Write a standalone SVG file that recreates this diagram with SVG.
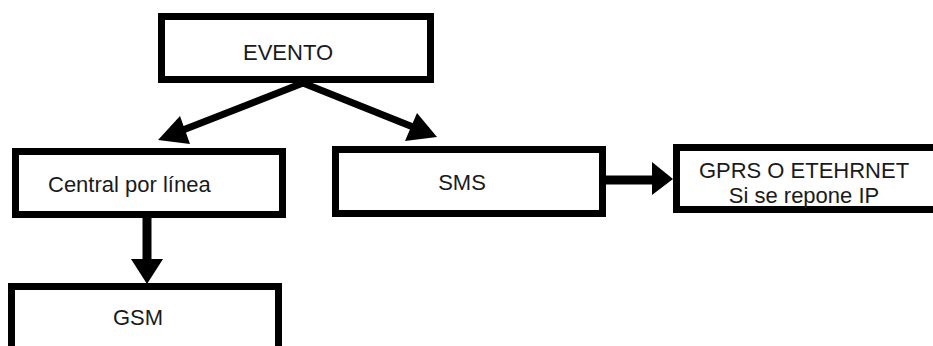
<svg xmlns="http://www.w3.org/2000/svg" width="933" height="346" viewBox="0 0 933 346">
<style>
.box{fill:#fff;stroke:#000;stroke-width:7}
.lbl{font-family:"Liberation Sans",Arial,sans-serif;font-size:22px;fill:#1a1a1a}
.ln{stroke:#000;fill:none}
.hd{fill:#000;stroke:none}
</style>
<rect width="933" height="346" fill="#fff"/>
<g id="connectors">
<line class="ln" x1="303" y1="83" x2="183" y2="130" stroke-width="7"/>
<polygon class="hd" points="158,140 180,116 190,144"/>
<line class="ln" x1="303" y1="83" x2="413" y2="127" stroke-width="7"/>
<polygon class="hd" points="437,137 417,113 405,141"/>
<line class="ln" x1="606" y1="180" x2="655" y2="180" stroke-width="9"/>
<polygon class="hd" points="673,179 652,162 652,195"/>
<line class="ln" x1="147" y1="218" x2="147" y2="262" stroke-width="9"/>
<polygon class="hd" points="147,284 131,259 163,259"/>
</g>
<g id="evento">
<rect class="box" x="161.5" y="16.5" width="269" height="63"/>
<text class="lbl" x="288" y="60" text-anchor="middle">EVENTO</text>
</g>
<g id="central">
<rect class="box" x="15.5" y="151.5" width="267" height="63"/>
<text class="lbl" x="48" y="192">Central por línea</text>
</g>
<g id="sms">
<rect class="box" x="335.5" y="149.5" width="267" height="64"/>
<text class="lbl" x="462" y="190" text-anchor="middle">SMS</text>
</g>
<g id="gprs">
<rect class="box" x="676.5" y="147.5" width="300" height="62"/>
<text class="lbl" x="804" y="178" text-anchor="middle">GPRS O ETEHRNET</text>
<text class="lbl" x="804" y="203" text-anchor="middle">Si se repone IP</text>
</g>
<g id="gsm">
<rect class="box" x="11.5" y="286.5" width="267" height="80"/>
<text class="lbl" x="138" y="325" text-anchor="middle">GSM</text>
</g>
</svg>
